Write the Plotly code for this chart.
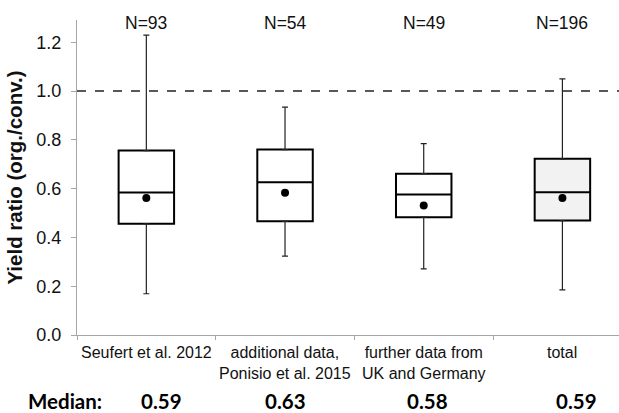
import plotly.graph_objects as go

categories = ["Seufert et al. 2012", "additional data,<br>Ponisio et al. 2015",
              "further data from<br>UK and Germany", "total"]
n_labels = ["N=93", "N=54", "N=49", "N=196"]
lower_whisker = [0.169, 0.323, 0.271, 0.185]
q1 = [0.456, 0.466, 0.483, 0.469]
median = [0.584, 0.626, 0.576, 0.585]
q3 = [0.756, 0.760, 0.661, 0.722]
upper_whisker = [1.229, 0.934, 0.784, 1.050]
mean = [0.561, 0.583, 0.531, 0.561]
median_labels = ["0.59", "0.63", "0.58", "0.59"]
fills = ["#ffffff", "#ffffff", "#ffffff", "#f2f2f2"]

xs = list(range(len(categories)))
fig = go.Figure()

# whiskers as error bars
fig.add_trace(go.Scatter(
    x=xs, y=q3, mode="markers", marker=dict(size=1, color="rgba(0,0,0,0)"),
    error_y=dict(type="data", symmetric=False,
                 array=[u - q for u, q in zip(upper_whisker, q3)],
                 arrayminus=[0] * 4, width=3, thickness=1.2, color="#222"),
    showlegend=False, hoverinfo="skip"))
fig.add_trace(go.Scatter(
    x=xs, y=q1, mode="markers", marker=dict(size=1, color="rgba(0,0,0,0)"),
    error_y=dict(type="data", symmetric=False,
                 array=[0] * 4,
                 arrayminus=[q - l for q, l in zip(q1, lower_whisker)],
                 width=3, thickness=1.2, color="#222"),
    showlegend=False, hoverinfo="skip"))

for i in xs:
    fig.add_trace(go.Box(
        x=[i], q1=[q1[i]], median=[median[i]], q3=[q3[i]],
        lowerfence=[q1[i]], upperfence=[q3[i]],
        width=0.4, whiskerwidth=0,
        fillcolor=fills[i], line=dict(color="#000000", width=2),
        boxpoints=False, showlegend=False, hoverinfo="skip"))

fig.add_trace(go.Scatter(
    x=xs, y=mean, mode="markers",
    marker=dict(size=8, color="#000000"),
    showlegend=False, hoverinfo="skip"))

fig.add_hline(y=1.0, line=dict(color="#222", width=1.3, dash="dash"))

for i in xs:
    fig.add_annotation(x=i, y=1.0, yref="paper", yanchor="bottom", yshift=-15,
                       text=n_labels[i], showarrow=False,
                       font=dict(family="Liberation Sans, Arial", size=17.5, color="#111"))
    fig.add_annotation(x=i, y=0, yref="paper", yanchor="top", yshift=-7,
                       text=categories[i], showarrow=False,
                       font=dict(family="Liberation Sans, Arial", size=16, color="#111"))

med_x = [0.111, 1.003, 2.027, 3.101]
for i in xs:
    fig.add_annotation(x=med_x[i], xanchor="center", y=0, yref="paper", yanchor="middle",
                       yshift=-66, text="<b>%s</b>" % median_labels[i], showarrow=False,
                       font=dict(family="Lato, Open Sans", size=20.5, color="#000"))
fig.add_annotation(x=(65 - 77) / 542, xref="paper", xanchor="center", y=0, yref="paper",
                   yanchor="middle", yshift=-66, text="<b>Median:</b>", showarrow=False,
                   font=dict(family="Lato, Open Sans", size=20.5, color="#000"))

fig.update_layout(
    width=619, height=413,
    margin=dict(l=77, r=0, t=20, b=78),
    plot_bgcolor="white", paper_bgcolor="white",
    xaxis=dict(range=[-0.5, 3.408], showgrid=False, zeroline=False,
               showline=True, linecolor="#a6a6a6", linewidth=1,
               tickvals=[-0.5, 0.5, 1.5, 2.5], ticktext=["", "", "", ""],
               ticks="outside", ticklen=4, tickcolor="#a6a6a6"),
    yaxis=dict(range=[0, 1.291], showgrid=False, zeroline=False,
               showline=True, linecolor="#a6a6a6", linewidth=1,
               tickvals=[0, 0.2, 0.4, 0.6, 0.8, 1.0, 1.2],
               ticktext=["0.0", "0.2", "0.4", "0.6", "0.8", "1.0", "1.2"],
               ticks="outside", ticklen=5, tickcolor="#a6a6a6", ticklabelstandoff=6,
               tickfont=dict(family="Liberation Sans, Arial", size=18, color="#111"),
               title=dict(text="<b>Yield ratio (org./conv.)</b>", standoff=8,
                          font=dict(family="Liberation Sans, Arial", size=20.5, color="#111"))),
)

fig.write_html("out.html")
